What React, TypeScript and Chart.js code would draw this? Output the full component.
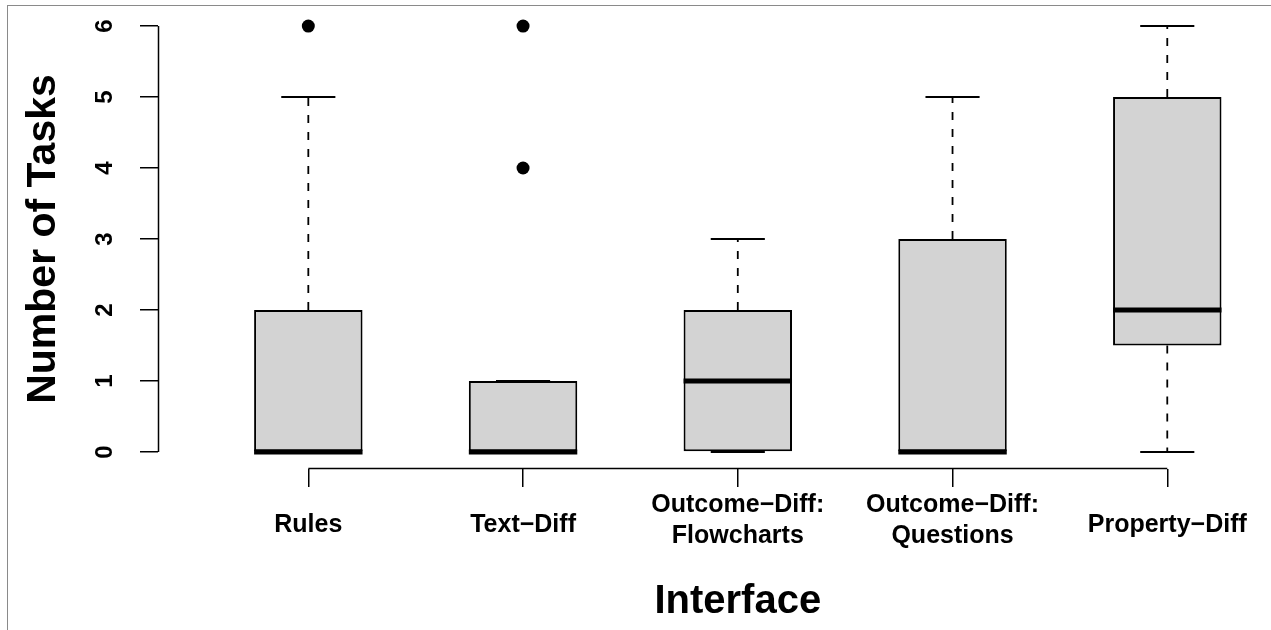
import React, { useEffect, useRef } from "react";
import { Chart, registerables } from "chart.js";

Chart.register(...registerables);

// ---- data ----
const categories: string[][] = [
  ["Rules"],
  ["Text\u2212Diff"],
  ["Outcome\u2212Diff:", "Flowcharts"],
  ["Outcome\u2212Diff:", "Questions"],
  ["Property\u2212Diff"],
];
const positions = [1, 2, 3, 4, 5];
const whiskerLow = [0, 0, 0, 0, 0];
const lowerQuartile = [0, 0, 0, 0, 1.5];
const medians = [0, 0, 1, 0, 2];
const upperQuartile = [2, 1, 2, 3, 5];
const whiskerHigh = [5, 1, 3, 5, 6];
const outliers: number[][] = [[6], [4, 6], [], [], []];
const yTicks = [0, 1, 2, 3, 4, 5, 6];
const yTitle = "Number of Tasks";
const xTitle = "Interface";

const FONT = "'Liberation Sans', Arial, Helvetica, sans-serif";

const boxplotPlugin = {
  id: "boxplotExtras",
  beforeDatasetsDraw(chart: any) {
    const { ctx, scales } = chart;
    const xs = scales.x;
    const ys = scales.y;
    ctx.save();
    ctx.strokeStyle = "#000";
    positions.forEach((p, i) => {
      const x = xs.getPixelForValue(p);
      ctx.lineWidth = 1.8;
      ctx.setLineDash([8, 9]);
      ctx.beginPath();
      ctx.moveTo(x, ys.getPixelForValue(upperQuartile[i]));
      ctx.lineTo(x, ys.getPixelForValue(whiskerHigh[i]));
      ctx.moveTo(x, ys.getPixelForValue(lowerQuartile[i]));
      ctx.lineTo(x, ys.getPixelForValue(whiskerLow[i]));
      ctx.stroke();
      ctx.setLineDash([]);
    });
    ctx.restore();
  },
  afterDatasetsDraw(chart: any) {
    const { ctx, scales } = chart;
    const xs = scales.x;
    const ys = scales.y;
    const meta = chart.getDatasetMeta(0);
    ctx.save();
    ctx.strokeStyle = "#000";
    positions.forEach((p, i) => {
      const x = xs.getPixelForValue(p);
      const capHalf = xs.getPixelForValue(p + 0.126) - x;
      ctx.lineWidth = 2;
      ctx.beginPath();
      [whiskerHigh[i], whiskerLow[i]].forEach((v) => {
        const y = ys.getPixelForValue(v);
        ctx.moveTo(x - capHalf, y);
        ctx.lineTo(x + capHalf, y);
      });
      ctx.stroke();
      const bar = meta.data[i];
      const { width } = bar.getProps(["width"], true);
      const ym = ys.getPixelForValue(medians[i]);
      ctx.lineWidth = 5;
      ctx.beginPath();
      ctx.moveTo(x - width / 2, ym);
      ctx.lineTo(x + width / 2, ym);
      ctx.stroke();
    });
    ctx.restore();
  },
  afterDraw(chart: any) {
    const { ctx, scales, chartArea } = chart;
    const xs = scales.x;
    const ys = scales.y;
    ctx.save();
    ctx.strokeStyle = "#000";
    ctx.lineWidth = 1.5;
    ctx.beginPath();
    const ax = Math.round(chartArea.left) + 0.5;
    ctx.moveTo(ax, ys.getPixelForValue(yTicks[0]));
    ctx.lineTo(ax, ys.getPixelForValue(yTicks[yTicks.length - 1]));
    const ay = Math.round(chartArea.bottom) - 0.5;
    ctx.moveTo(xs.getPixelForValue(positions[0]), ay);
    ctx.lineTo(xs.getPixelForValue(positions[positions.length - 1]), ay);
    ctx.stroke();

    ctx.fillStyle = "#000";
    ctx.font = `bold 24px ${FONT}`;
    ctx.textAlign = "center";
    ctx.textBaseline = "alphabetic";
    yTicks.forEach((v) => {
      ctx.save();
      ctx.translate(chartArea.left - 46, ys.getPixelForValue(v));
      ctx.rotate(-Math.PI / 2);
      ctx.fillText(String(v), 0, 0);
      ctx.restore();
    });
    ctx.font = `bold 25px ${FONT}`;
    positions.forEach((p, i) => {
      const lines = categories[i];
      const x = xs.getPixelForValue(p);
      const first = chartArea.bottom + 63 - (lines.length - 1) * 20;
      lines.forEach((t, k) => ctx.fillText(t, x, first + k * 31));
    });
    ctx.font = `bold 40px ${FONT}`;
    ctx.fillText(xTitle, xs.getPixelForValue(positions[2]), chartArea.bottom + 144);
    ctx.font = `bold 41px ${FONT}`;
    ctx.save();
    ctx.translate(55, (ys.getPixelForValue(yTicks[0]) + ys.getPixelForValue(yTicks[yTicks.length - 1])) / 2);
    ctx.rotate(-Math.PI / 2);
    ctx.fillText(yTitle, 0, 0);
    ctx.restore();
    ctx.restore();
  },
};

export default function App() {
  const ref = useRef<HTMLCanvasElement | null>(null);
  useEffect(() => {
    if (!ref.current) return;
    const boxData = positions.map((p, i) => ({ x: p, y: [lowerQuartile[i], upperQuartile[i]] }));
    const outlierData: { x: number; y: number }[] = [];
    outliers.forEach((arr, i) => arr.forEach((v) => outlierData.push({ x: positions[i], y: v })));
    const chart = new Chart(ref.current, {
      type: "bar",
      data: {
        datasets: [
          {
            type: "bar",
            data: boxData as any,
            backgroundColor: "#d3d3d3",
            borderColor: "#000",
            borderWidth: 2,
            borderSkipped: false,
            categoryPercentage: 1,
            barPercentage: 0.505,
          },
          {
            type: "scatter",
            data: outlierData,
            pointRadius: 6.5,
            pointBackgroundColor: "#000",
            pointBorderWidth: 0,
            pointBorderColor: "#000",
          },
        ],
      },
      options: {
        responsive: false,
        animation: false,
        events: [],
        layout: { padding: { top: 9, left: 0, right: 0, bottom: 0 } },
        plugins: { legend: { display: false }, tooltip: { enabled: false } },
        scales: {
          x: {
            type: "linear",
            min: 0.3,
            max: 0.3 + 1113 / 216,
            offset: false,
            afterBuildTicks: (s: any) => {
              s.ticks = positions.map((v) => ({ value: v }));
            },
            afterFit: (s: any) => {
              s.height = 161;
            },
            ticks: { display: false },
            border: { display: false },
            grid: {
              display: true,
              offset: false,
              drawOnChartArea: false,
              drawTicks: true,
              tickLength: 18,
              color: "#000",
              lineWidth: 1.5,
            },
          },
          y: {
            type: "linear",
            min: -0.24,
            max: 6.24,
            afterBuildTicks: (s: any) => {
              s.ticks = yTicks.map((v) => ({ value: v }));
            },
            afterFit: (s: any) => {
              s.width = 158;
            },
            ticks: { display: false },
            border: { display: false },
            grid: {
              display: true,
              offset: false,
              drawOnChartArea: false,
              drawTicks: true,
              tickLength: 18,
              color: "#000",
              lineWidth: 1.5,
            },
          },
        },
      },
      plugins: [boxplotPlugin],
    });
    return () => chart.destroy();
  }, []);
  return (
    <div style={{ position: "fixed", left: 0, top: 0, width: 1271, height: 630, background: "#fff", overflow: "hidden" }}>
      <canvas ref={ref} width={1271} height={630} style={{ display: "block" }} />
      <div
        style={{
          position: "absolute",
          left: 7,
          top: 5,
          width: 1270,
          height: 700,
          borderTop: "1px solid #8a8a8a",
          borderLeft: "1px solid #8a8a8a",
          pointerEvents: "none",
        }}
      />
    </div>
  );
}
